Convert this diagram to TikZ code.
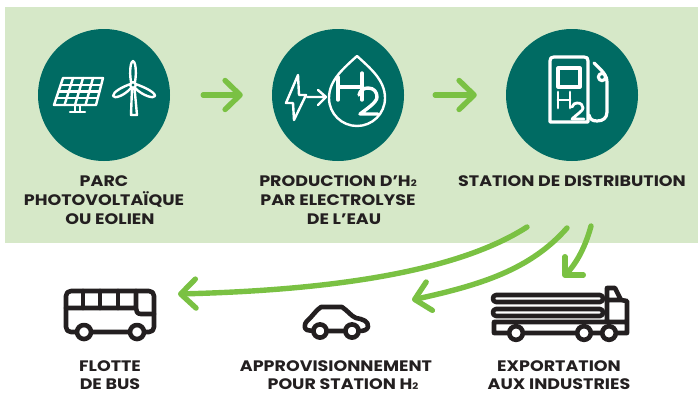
\documentclass[tikz,border=0pt]{standalone}
\usepackage{fontspec}
\setmainfont{Poppins}[FakeStretch=1.15]
\usetikzlibrary{arrows.meta,calc}
\definecolor{vertfond}{HTML}{D6E8C8}
\definecolor{vertrond}{HTML}{006B63}
\definecolor{vertfleche}{HTML}{7AC143}
\definecolor{noirtexte}{HTML}{231F20}
\newcommand{\hdeux}{H{\fontsize{9}{9}\selectfont 2}}
\tikzset{
  rond/.style={circle, fill=vertrond, minimum size=132pt, inner sep=0pt},
  titre/.style={align=center, text=noirtexte, inner sep=0pt, font=\fontsize{15.2}{19}\selectfont\bfseries},
  fleche/.style={draw=vertfleche, line width=5.4pt, line cap=round, -{Straight Barb[length=15pt, width=29pt, round]}},
  icone/.style={draw=white, line width=2.4pt, line join=round, line cap=round},
  picto/.style={draw=noirtexte, line width=4.6pt, line join=round, line cap=round},
  roue/.style={picto, fill=white}
}
\begin{document}
\begin{tikzpicture}[x=1pt, y=-1pt]
            \useasboundingbox (0,0) rectangle (698,394);
            \fill[vertfond] (5,7) rectangle (698,243);

            \node[rond] (parc) at (104,95) {};
            \node[rond] (production) at (338,95) {};
            \node[rond] (station) at (572,95) {};
            \draw[fleche, shorten <=33pt, shorten >=29pt] (parc) -- (production);
            \draw[fleche, shorten <=31pt, shorten >=29pt] (production) -- (station);

            \node[titre, anchor=north, yshift=-14pt] (tparc) at (parc.south) {PARC\\PHOTOVOLTAÏQUE\\\hspace*{12pt}OU EOLIEN};
            \node[titre, anchor=north, yshift=-14pt] (tproduction) at (production.south) {PRODUCTION D’\hdeux\\PAR ELECTROLYSE\\\hspace*{12pt}DE L’EAU};
            \node[titre, anchor=north, yshift=-14pt] (tstation) at (station.south) {STATION DE DISTRIBUTION};

            \coordinate (panelhg) at (63,78);
            \coordinate (panelhd) at (103,78);
            \coordinate (panelbd) at (96,105);
            \coordinate (panelbg) at (54,105);
            \draw[icone] (panelhg) -- (panelhd) -- (panelbd) -- (panelbg) -- cycle;
            \foreach \t in {0.25,0.5,0.75} {
                \draw[icone] ($(panelhg)!\t!(panelbg)$) -- ($(panelhd)!\t!(panelbd)$);
                \draw[icone] ($(panelhg)!\t!(panelhd)$) -- ($(panelbg)!\t!(panelbd)$);
            }
            \draw[icone] (75,105) -- (75,112) (80,105) -- (80,112) (70,112) -- (85,112);

            \draw[icone] (131,82) .. controls (129,70) and (131,61) .. (133,61) .. controls (135,61) and (137,70) .. (135,82);
            \draw[icone] (130.5,84) .. controls (122,87) and (113,92) .. (113,96) .. controls (114,99) and (124,96) .. (131,88);
            \draw[icone] (135.5,84) .. controls (144,87) and (155,92) .. (155,96) .. controls (154,99) and (143,96) .. (135,88);
            \draw[icone] (132,88) -- (131,115) -- (137,115) -- (134.5,88);
            \draw[icone] (133,85) circle (2.8);

            \draw[icone] (298,75) -- (286,103) -- (293,103) -- (294,120) -- (306,95) -- (299,95) -- cycle;
            \draw[icone] (307,97) -- (326,97) (318,90) -- (326,97) -- (318,105);
            \draw[icone] (357,56) .. controls (370,68) and (385,80) .. (385,98) .. controls (385,114) and (372,126) .. (357,126) .. controls (342,126) and (329,114) .. (329,98) .. controls (329,80) and (344,68) .. (357,56) -- cycle;
            \draw[icone, line width=3.4pt] (338,77) -- (338,100) (338,87) -- (362,87) (362,73) -- (362,100);
            \draw[icone, line width=3.4pt] (359,95) .. controls (360,90) and (364,88) .. (368,88) .. controls (374,88) and (377,92) .. (377,97) .. controls (377,102) and (368,108) .. (360,114) -- (378,114);

            \draw[icone, line width=3.2pt] (550,122) -- (550,61) .. controls (550,58) and (551,57) .. (554,57) -- (584,57) .. controls (587,57) and (588,58) .. (588,61) -- (588,122) -- cycle;
            \draw[icone, line width=3.2pt] (558,68) rectangle (580,87);
            \draw[icone, line width=2.8pt] (558,92) -- (558,108) (558,100) -- (570,100) (570,92) -- (570,108);
            \draw[icone, line width=2.8pt] (572,107) .. controls (573,104) and (575,103) .. (577,103) .. controls (581,103) and (583,105) .. (583,108) .. controls (583,111) and (577,114) .. (572,119) -- (584,119);
            \draw[icone, line width=3.2pt] (589,115) .. controls (590,119) and (592,121) .. (597,121) .. controls (603,121) and (607,118) .. (607,112) -- (607,82) .. controls (607,77) and (605,73) .. (594,63);
            \draw[icone, line width=3.2pt] (602,77) circle (3.6);

            \coordinate (departbus) at (527,227);
            \coordinate (departappro) at (567,228);
            \coordinate (departexport) at (591,226);
            \coordinate (bus) at (178,294);
            \coordinate (appro) at (412,300);
            \coordinate (export) at (563,277);
            \draw[fleche] (departbus) .. controls (460,270) and (340,290) .. (bus);
            \draw[fleche] (departappro) .. controls (530,270) and (480,285) .. (appro);
            \draw[fleche, -{Straight Barb[length=13pt, width=26pt, round]}] (departexport) .. controls (586,245) and (577,263) .. (export);

            \draw[picto] (71,291) -- (149,291) .. controls (152,291) and (154,293) .. (154,296) -- (154,327) .. controls (154,330) and (152,332) .. (149,332) -- (71,332) .. controls (68,332) and (66,330) .. (66,327) -- (66,296) .. controls (66,293) and (68,291) .. (71,291) -- cycle;
            \draw[picto] (66,308) -- (136,308) (136,291) -- (136,308) .. controls (136,311) and (137,314) .. (141,314) -- (154,314);
            \foreach \x in {83,100,118} {
                \draw[picto] (\x,291) -- (\x,308);
            }
            \foreach \x in {84,137} {
                \draw[roue] (\x,332) circle (7);
            }

            \draw[picto] (313,331) -- (307,330) .. controls (304,329) and (304,324) .. (307,321) .. controls (312,317) and (316,310) .. (321,307) -- (342,307) .. controls (348,311) and (351,316) .. (356,318) .. controls (362,319) and (369,321) .. (368,327) .. controls (367,330) and (364,331) .. (359,331) -- cycle;
            \foreach \x in {320,352} {
                \draw[roue] (\x,331) circle (6.6);
            }

            \draw[picto] (496,295) -- (600,295) .. controls (604,295) and (604,302) .. (600,302) -- (496,302) .. controls (492,302) and (492,295) .. (496,295) -- cycle;
            \draw[picto] (496,309) -- (600,309) .. controls (604,309) and (604,316) .. (600,316) -- (496,316) .. controls (492,316) and (492,309) .. (496,309) -- cycle;
            \draw[picto] (607,322) -- (607,288) -- (615,288) -- (621,300) -- (627,301) -- (627,333) -- (494,333) -- (494,322) -- (627,322) (607,300) -- (621,300);
            \foreach \x in {516,584,609} {
                \draw[roue] (\x,333) circle (6.8);
            }

            \node[titre, font=\fontsize{15.2}{18}\selectfont\bfseries] (tbus) at (110,375) {FLOTTE\\DE BUS};
            \node[titre, font=\fontsize{15.2}{18}\selectfont\bfseries] (tappro) at (336,375) {APPROVISIONNEMENT\\\hspace*{14pt}POUR STATION \hdeux};
            \node[titre, font=\fontsize{15.2}{18}\selectfont\bfseries] (texport) at (559,375) {EXPORTATION\\AUX INDUSTRIES};
        \end{tikzpicture}
\end{document}
